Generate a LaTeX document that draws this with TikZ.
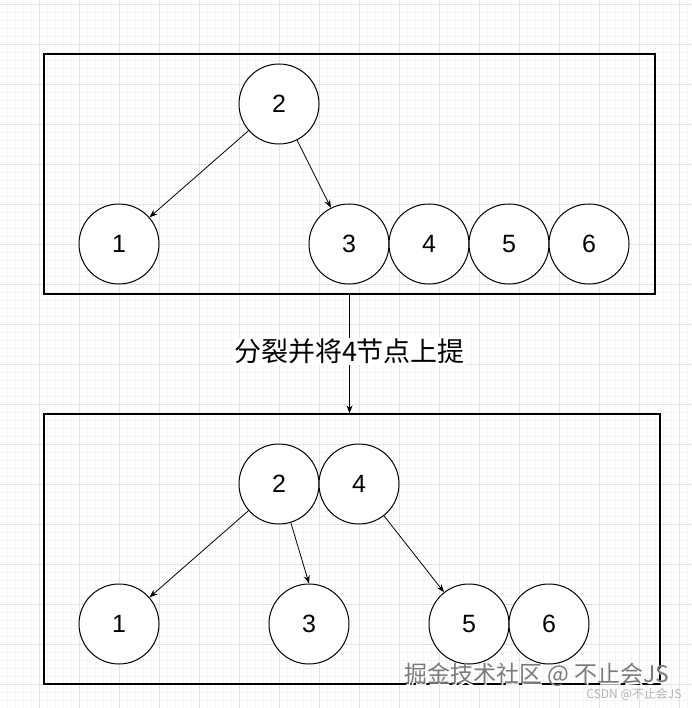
\documentclass[tikz,border=0pt]{standalone}
\usepackage{fontspec}
\setmainfont{Liberation Sans}
\newfontfamily\cjk{Noto Sans CJK SC}
\usetikzlibrary{arrows.meta}
\definecolor{gridmajor}{HTML}{E2E2E2}
\definecolor{gridminor}{HTML}{F4F4F4}
\definecolor{wmgray}{HTML}{7A7A7A}
\begin{document}
\begin{tikzpicture}[x=1pt,y=-1pt,
  bnode/.style={circle,draw=black,line width=1pt,fill=white,minimum size=80pt,inner sep=0pt,
    font=\fontsize{25}{29}\selectfont},
  frame/.style={draw=black,line width=1.2pt,fill=none,inner sep=0pt},
  edge/.style={line width=0.8pt,-{Stealth[length=8pt,width=6pt]}}]
\useasboundingbox (0,0) rectangle (691,708);
\fill[white] (0,0) rectangle (691,708);
% grid
\foreach \x in {-0.5,7.5,...,695} \draw[gridminor,line width=0.6pt] (\x,0) -- (\x,708);
\foreach \y in {4,12,...,712} \draw[gridminor,line width=0.6pt] (0,\y) -- (691,\y);
\foreach \x in {-0.5,39.5,...,695} \draw[gridmajor,line width=0.9pt] (\x,0) -- (\x,708);
\foreach \y in {4,44,...,712} \draw[gridmajor,line width=0.9pt] (0,\y) -- (691,\y);
% frames
\node[frame,minimum width=611pt,minimum height=240pt] (topbox) at (349.5,174) {};
\node[frame,minimum width=616pt,minimum height=270pt] (botbox) at (352,549) {};
% top tree
\node[bnode] (t2) at (279,104) {2};
\node[bnode] (t1) at (119,244) {1};
\node[bnode] (t3) at (349,244) {3};
\node[bnode] (t4) at (429,244) {4};
\node[bnode] (t5) at (509,244) {5};
\node[bnode] (t6) at (589,244) {6};
\draw[edge] (t2) -- (t1);
\draw[edge] (t2) -- (t3);
% split arrow
\draw[edge] (topbox.south) -- (topbox.south |- botbox.north)
  node[pos=0.48,fill=white,inner sep=1pt,font=\cjk\fontsize{27}{31}\selectfont] (lab) {分裂并将4节点上提};
% bottom tree
\node[bnode] (b2) at (279,484) {2};
\node[bnode] (b4) at (359,484) {4};
\node[bnode] (b1) at (119,624) {1};
\node[bnode] (b3) at (309,624) {3};
\node[bnode] (b5) at (469,624) {5};
\node[bnode] (b6) at (549,624) {6};
\draw[edge] (b2) -- (b1);
\draw[edge] (b2.-73) -- (b3.north);
\draw[edge] (b4) -- (b5);
% watermarks
\node[white,font=\cjk\fontsize{23}{27}\selectfont] (wm0) at (538.5,676.5) {掘金技术社区 @ 不止会JS};
\node[wmgray,font=\cjk\fontsize{23}{27}\selectfont] (wm) at (537,675) {掘金技术社区 @ 不止会JS};
\node[gray!60,font=\cjk\fontsize{12}{14}\selectfont] (csdn) at (634,694) {CSDN @不止会JS};
\end{tikzpicture}
\end{document}
